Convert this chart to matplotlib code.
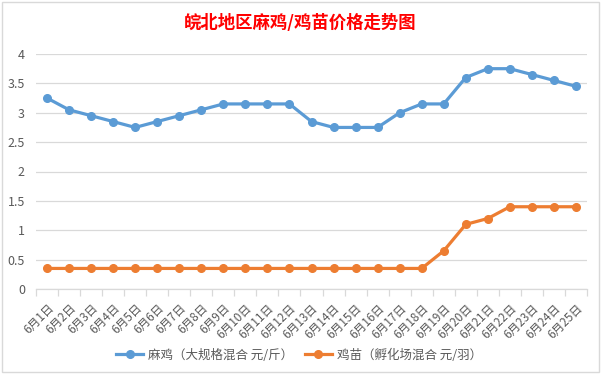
import matplotlib
matplotlib.use("Agg")
import matplotlib.pyplot as plt
from matplotlib.patches import Rectangle

plt.rcParams['font.family'] = ['Noto Sans CJK SC', 'DejaVu Sans']

dates = [f"6月{d}日" for d in range(1, 26)]
maji = [3.25, 3.05, 2.95, 2.85, 2.75, 2.85, 2.95, 3.05, 3.15, 3.15, 3.15, 3.15,
        2.85, 2.75, 2.75, 2.75, 3.0, 3.15, 3.15, 3.6, 3.75, 3.75, 3.65, 3.55, 3.45]
jimiao = [0.35] * 18 + [0.65, 1.1, 1.2, 1.4, 1.4, 1.4, 1.4]
yticks = [0, 0.5, 1, 1.5, 2, 2.5, 3, 3.5, 4]
ytick_labels = ["0", "0.5", "1", "1.5", "2", "2.5", "3", "3.5", "4"]
title = "皖北地区麻鸡/鸡苗价格走势图"
label1 = "麻鸡（大规格混合 元/斤）"
label2 = "鸡苗（孵化场混合 元/羽）"

W, H = 604, 380
fig = plt.figure(figsize=(W / 100, H / 100), dpi=100)
fig.patch.set_facecolor("white")

# chart border
fig.add_artist(Rectangle((2 / W, 1 - 372 / H), 597 / W, 370 / H, transform=fig.transFigure,
                         fill=False, edgecolor="#D9D9D9", linewidth=1))

left, right, top, bottom = 36, 587, 54, 289
ax = fig.add_axes([left / W, 1 - bottom / H, (right - left) / W, (bottom - top) / H])

x = list(range(len(dates)))
ax.plot(x, maji, color="#5B9BD5", linewidth=2.3, marker="o", markersize=5.5, label=label1)
ax.plot(x, jimiao, color="#ED7D31", linewidth=2.3, marker="o", markersize=5.5, label=label2)

ax.set_xlim(-0.5, len(dates) - 0.5)
ax.set_ylim(0, 4)
ax.set_yticks(yticks)
ax.set_yticklabels(ytick_labels)
ax.yaxis.grid(True, color="#D9D9D9", linewidth=0.9)
ax.set_axisbelow(True)

ax.set_xticks(x)
ax.set_xticklabels(dates, rotation=45, ha="right", rotation_mode="anchor")
ax.set_xticks([i - 0.5 for i in range(len(dates) + 1)], minor=True)
ax.tick_params(axis="x", which="major", length=0, pad=9, labelsize=8.5, labelcolor="#595959")
ax.tick_params(axis="x", which="minor", length=5, color="#D9D9D9", width=0.9)
ax.tick_params(axis="y", length=0, pad=8, labelsize=9, labelcolor="#595959")

for s in ["top", "right", "left"]:
    ax.spines[s].set_visible(False)
ax.spines["bottom"].set_color("#D9D9D9")
ax.spines["bottom"].set_linewidth(0.9)

fig.text(300 / W, 1 - 23 / H, title, color="#FF0000", fontsize=12.5, fontweight="bold",
         ha="center", va="center")

fig.legend(loc="center", bbox_to_anchor=(299 / W, 1 - 355 / H), ncol=2, frameon=False,
           fontsize=9, labelcolor="#595959", handlelength=2.2, columnspacing=0.9,
           handletextpad=0.4)

fig.savefig("out.png", dpi=100)
